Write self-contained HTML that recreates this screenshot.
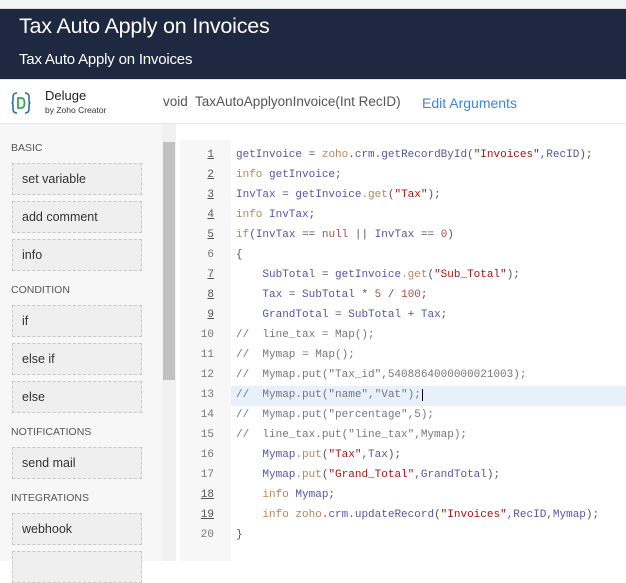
<!DOCTYPE html>
<html><head><meta charset="utf-8"><style>
*{margin:0;padding:0;box-sizing:border-box}
body{width:626px;height:561px;overflow:hidden;background:#fff;font-family:"Liberation Sans",sans-serif;position:relative}
.top{position:absolute;left:0;top:0;width:626px;height:9px;background:#f3f3f3;border-bottom:1px solid #ddd}
.hdr{position:absolute;left:0;top:9px;width:626px;height:70px;background:#1e2841;color:#fff}
.hdr .t1{position:absolute;left:19px;top:5px;font-size:21.5px;letter-spacing:-0.2px}
.hdr .t2{position:absolute;left:19px;top:42px;font-size:15px;letter-spacing:-0.2px}
.bar{position:absolute;left:0;top:79px;width:626px;height:45px;background:#fff;border-top:1px solid #dfe6ef;border-bottom:1px solid #e6e6e6}
.side{position:absolute;left:0;top:124px;width:176px;height:437px;background:#f7f7f7}
.sb{position:absolute;left:162px;top:124px;width:14px;height:437px;background:#f1f1f1}
.thumb{position:absolute;left:163px;top:142px;width:12px;height:238px;background:#c1c1c1}
.cat{position:absolute;left:11px;font-size:10.5px;color:#555}
.btn{position:absolute;left:12px;width:130px;height:32px;background:#efefef;border:1px dashed #c8c8c8;font-size:12.5px;color:#333;padding:8px 0 0 9px}
.gut{position:absolute;left:180px;top:140px;width:51px;height:421px;background:#f7f7f7}
.code{position:absolute;left:231px;top:140px;width:395px;height:421px;background:#fff}
.ln{position:absolute;left:190px;width:24px;text-align:right;font-family:"Liberation Mono",monospace;font-size:11px;color:#777}
.ln.u{text-decoration:underline;color:#555}
.cl{position:absolute;left:236px;font-family:"Liberation Mono",monospace;font-size:11px;color:#5556a0;white-space:pre}
.k{color:#b3885a}.s{color:#a31515}.c{color:#777}.n{color:#a7504b}.p{color:#555}
</style></head><body>
<div class="top"></div>
<div class="hdr"><div class="t1">Tax Auto Apply on Invoices</div><div class="t2">Tax Auto Apply on Invoices</div></div>
<div class="bar">
<svg style="position:absolute;left:11px;top:11px" width="20" height="24" viewBox="0 0 20 24"><path d="M6 2 Q2 2 2 6 L2 10 Q2 12 0.5 12 Q2 12 2 14 L2 18 Q2 22 6 22" fill="none" stroke="#2d6fa6" stroke-width="1.6"/><path d="M14 2 Q18 2 18 6 L18 10 Q18 12 19.5 12 Q18 12 18 14 L18 18 Q18 22 14 22" fill="none" stroke="#2d6fa6" stroke-width="1.6"/><path d="M7 7 L10 7 Q13.5 7 13.5 12 Q13.5 17 10 17 L7 17 Z" fill="none" stroke="#3aa655" stroke-width="1.8"/></svg>
<div style="position:absolute;left:45px;top:8px;font-size:13px;color:#222">Deluge</div>
<div style="position:absolute;left:45px;top:25px;font-size:8.5px;color:#333">by Zoho Creator</div>
<div style="position:absolute;left:163px;top:14px;font-size:13.5px;color:#555">void&nbsp; TaxAutoApplyonInvoice(Int RecID)</div>
<div style="position:absolute;left:422px;top:15px;font-size:14px;color:#3c86d6">Edit Arguments</div>
</div>
<div class="side"></div><div class="sb"></div><div class="thumb"></div>
<div class="cat" style="top:142px">BASIC</div>
<div class="btn" style="top:163px">set variable</div>
<div class="btn" style="top:201px">add comment</div>
<div class="btn" style="top:239px">info</div>
<div class="cat" style="top:284px">CONDITION</div>
<div class="btn" style="top:305px">if</div>
<div class="btn" style="top:343px">else if</div>
<div class="btn" style="top:381px">else</div>
<div class="cat" style="top:426px">NOTIFICATIONS</div>
<div class="btn" style="top:447px">send mail</div>
<div class="cat" style="top:492px">INTEGRATIONS</div>
<div class="btn" style="top:513px">webhook</div>
<div class="btn" style="top:551px"></div>
<div class="gut"></div><div class="code"></div>
<div style="position:absolute;left:231px;top:386px;width:395px;height:20px;background:#e8f0fb"></div>
<div class="ln u" style="top:149px">1</div><div class="cl" style="top:149px">getInvoice <span class="p">=</span> <span class="k">zoho</span><span class="p">.</span>crm.getRecordById<span class="p">(</span><span class="s">"Invoices"</span>,RecID<span class="p">);</span></div>
<div class="ln u" style="top:169px">2</div><div class="cl" style="top:169px"><span class="k">info</span> getInvoice<span class="p">;</span></div>
<div class="ln u" style="top:189px">3</div><div class="cl" style="top:189px">InvTax <span class="p">=</span> getInvoice<span class="k">.get</span><span class="p">(</span><span class="s">"Tax"</span><span class="p">);</span></div>
<div class="ln u" style="top:209px">4</div><div class="cl" style="top:209px"><span class="k">info</span> InvTax<span class="p">;</span></div>
<div class="ln u" style="top:229px">5</div><div class="cl" style="top:229px"><span class="k">if</span><span class="p">(</span>InvTax <span class="p">==</span> <span class="n">null</span> <span class="p">||</span> InvTax <span class="p">==</span> <span class="n">0</span><span class="p">)</span></div>
<div class="ln" style="top:249px">6</div><div class="cl" style="top:249px"><span class="p">{</span></div>
<div class="ln u" style="top:269px">7</div><div class="cl" style="top:269px">    SubTotal <span class="p">=</span> getInvoice<span class="k">.get</span><span class="p">(</span><span class="s">"Sub_Total"</span><span class="p">);</span></div>
<div class="ln u" style="top:289px">8</div><div class="cl" style="top:289px">    Tax <span class="p">=</span> SubTotal <span class="p">*</span> <span class="n">5</span> <span class="p">/</span> <span class="n">100</span><span class="p">;</span></div>
<div class="ln u" style="top:309px">9</div><div class="cl" style="top:309px">    GrandTotal <span class="p">=</span> SubTotal <span class="p">+</span> Tax<span class="p">;</span></div>
<div class="ln" style="top:329px">10</div><div class="cl c" style="top:329px">//  line_tax = Map();</div>
<div class="ln" style="top:349px">11</div><div class="cl c" style="top:349px">//  Mymap = Map();</div>
<div class="ln" style="top:369px">12</div><div class="cl c" style="top:369px">//  Mymap.put("Tax_id",5408864000000021003);</div>
<div class="ln" style="top:389px">13</div><div class="cl c" style="top:389px">//  Mymap.put("name","Vat");<span style="border-left:1.5px solid #000;margin-left:1px"></span></div>
<div class="ln" style="top:409px">14</div><div class="cl c" style="top:409px">//  Mymap.put("percentage",5);</div>
<div class="ln" style="top:429px">15</div><div class="cl c" style="top:429px">//  line_tax.put("line_tax",Mymap);</div>
<div class="ln" style="top:449px">16</div><div class="cl" style="top:449px">    Mymap<span class="k">.put</span><span class="p">(</span><span class="s">"Tax"</span>,Tax<span class="p">);</span></div>
<div class="ln" style="top:469px">17</div><div class="cl" style="top:469px">    Mymap<span class="k">.put</span><span class="p">(</span><span class="s">"Grand_Total"</span>,GrandTotal<span class="p">);</span></div>
<div class="ln u" style="top:489px">18</div><div class="cl" style="top:489px">    <span class="k">info</span> Mymap<span class="p">;</span></div>
<div class="ln u" style="top:509px">19</div><div class="cl" style="top:509px">    <span class="k">info zoho</span><span class="p">.</span>crm.updateRecord<span class="p">(</span><span class="s">"Invoices"</span>,RecID,Mymap<span class="p">);</span></div>
<div class="ln" style="top:529px">20</div><div class="cl" style="top:529px"><span class="p">}</span></div>
</body></html>
